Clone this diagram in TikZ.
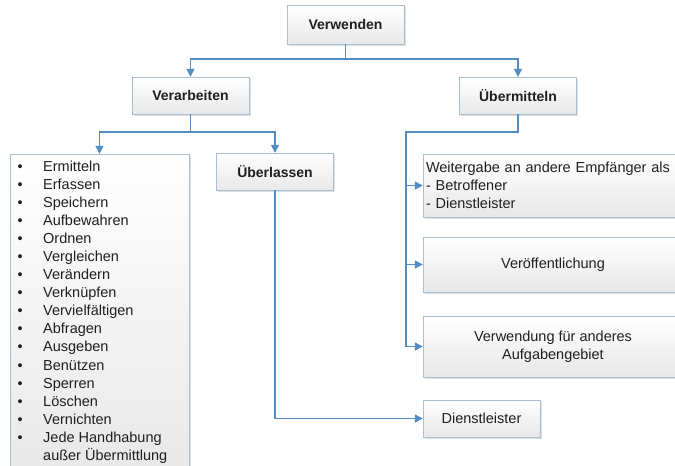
\documentclass[tikz,border=0pt]{standalone}
\usepackage{fontspec}
\setmainfont{Liberation Sans}
\usetikzlibrary{calc,arrows.meta,shadows}
\tikzset {>={Triangle[length=8pt,width=8pt]}}
\definecolor{linie}{RGB}{84,141,196}
\definecolor{rand}{RGB}{172,190,212}
\tikzset{
  kasten/.style={draw=rand, top color=white, bottom color=black!9,
    drop shadow={opacity=0.25,shadow xshift=1.5pt,shadow yshift=-1.5pt},
    inner sep=0pt, text=black!88},
  kopf/.style={kasten, font=\fontsize{14}{17}\selectfont\bfseries,
    minimum width=117pt, minimum height=37pt},
  feld/.style={kasten, font=\fontsize{14.5}{18}\selectfont},
  pfeil/.style={->, draw=linie, line width=1.3pt}
}

\begin{document}
\begin{tikzpicture}[x=1pt,y=-1pt]
\fill[white] (0,0) rectangle (675,466);
\useasboundingbox (0,0) rectangle (675,466);

\node[kopf, minimum height=39pt] (verwenden) at (345.5,24.5) {Verwenden};
\node[kopf] (verarbeiten) at (190.5,95.5) {Verarbeiten};
\node[kopf] (uebermitteln) at (518,95.5) {Übermitteln};
\node[kopf] (ueberlassen) at (275,171.5) {Überlassen};

\node[feld, minimum width=179pt, minimum height=321pt] (liste) at (99.5,314.5) {};
\node[anchor=north west, inner sep=0pt, font=\fontsize{14.5}{18.06}\selectfont, text=black!88]
  (listetext) at (17.5,158.5) {%
  \begin{tabular}{@{}p{25.5pt}@{}l@{}}
  \textbullet & Ermitteln\\
  \textbullet & Erfassen\\
  \textbullet & Speichern\\
  \textbullet & Aufbewahren\\
  \textbullet & Ordnen\\
  \textbullet & Vergleichen\\
  \textbullet & Verändern\\
  \textbullet & Verknüpfen\\
  \textbullet & Vervielfältigen\\
  \textbullet & Abfragen\\
  \textbullet & Ausgeben\\
  \textbullet & Benützen\\
  \textbullet & Sperren\\
  \textbullet & Löschen\\
  \textbullet & Vernichten\\
  \textbullet & Jede Handhabung\\
              & außer Übermittlung
  \end{tabular}};

\node[feld, text width=254pt, inner xsep=3pt, minimum height=63pt, align=left]
  (weitergabe) at (553,185.5) {Weitergabe an andere Empfänger als\\- Betroffener\\- Dienstleister};
\node[feld, minimum width=260pt, minimum height=55pt] (veroeff) at (553,264.5) {Veröffentlichung};
\node[feld, minimum width=260pt, minimum height=61pt, align=center]
  (verwendung) at (553,346.5) {Verwendung für anderes\\Aufgabengebiet};
\node[feld, minimum width=117pt, minimum height=37pt] (dienstleister) at (481.5,418.5) {Dienstleister};

\coordinate (a1) at (345.5,59);
\coordinate (a2) at (190.5,132);
\coordinate (a3) at (518,132);
\coordinate (a4) at (406,132);

\draw[linie, line width=1.3pt] (verwenden.south) -- (a1);
\draw[pfeil] (a1) -| (verarbeiten.north);
\draw[pfeil] (a1) -| (uebermitteln.north);
\draw[pfeil] (verarbeiten.south) -- (a2) -| (liste.north);
\draw[pfeil] (a2) -| (ueberlassen.north);
\draw[pfeil] (uebermitteln.south) -- (a3) -- (a4) |- (verwendung.west);
\draw[pfeil] (a4 |- weitergabe.west) -- (weitergabe.west);
\draw[pfeil] (a4 |- veroeff.west) -- (veroeff.west);
\draw[pfeil] (ueberlassen.south) |- (dienstleister.west);

\end{tikzpicture}
\end{document}
